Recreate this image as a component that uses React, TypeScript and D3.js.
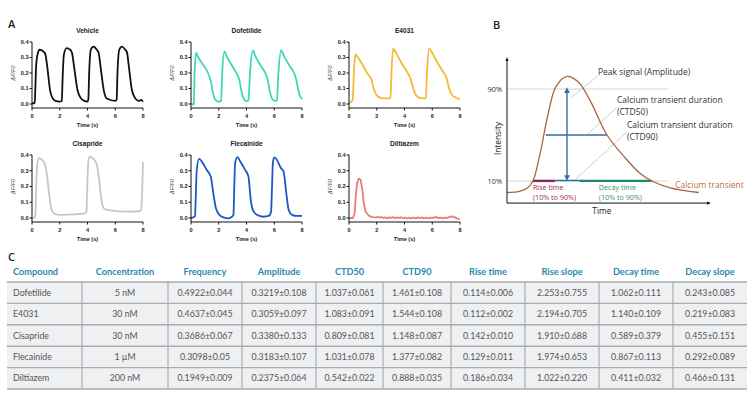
import React from 'react';
import * as d3 from 'd3';

// ---- panel A : calcium traces (time s, dF/F0) ----
const timeTicks = [0, 2, 4, 6, 8];
const dffTicks = [0, 0.1, 0.2, 0.3, 0.4];

const vehicle: [number, number][] = [
  [0, 0.005], [0.2, 0.005], [0.24, 0.1], [0.3, 0.25], [0.4, 0.32], [0.55, 0.35], [0.8, 0.34], [0.95, 0.325],
  [1.1, 0.24], [1.3, 0.09], [1.5, 0.035], [1.75, 0.018], [2.0, 0.015], [2.15, 0.02], [2.2, 0.15], [2.3, 0.32],
  [2.5, 0.36], [2.75, 0.35], [2.88, 0.33], [3.05, 0.23], [3.28, 0.09], [3.6, 0.03], [4.0, 0.015], [4.06, 0.03],
  [4.12, 0.2], [4.24, 0.35], [4.43, 0.37], [4.67, 0.35], [4.8, 0.33], [4.97, 0.22], [5.17, 0.09], [5.4, 0.035],
  [6.0, 0.02], [6.1, 0.03], [6.16, 0.2], [6.29, 0.35], [6.48, 0.37], [6.72, 0.35], [6.84, 0.335], [7.01, 0.22],
  [7.2, 0.09], [7.45, 0.035], [7.7, 0.02], [7.86, 0.026], [8.0, 0.015],
];
const dofetilide: [number, number][] = [
  [0, 0.003], [0.1, 0.0], [0.17, -0.005], [0.2, 0.0], [0.26, 0.2], [0.36, 0.332], [0.53, 0.3], [0.9, 0.25],
  [1.25, 0.195], [1.42, 0.15], [1.57, 0.08], [1.73, 0.03], [1.98, 0.015], [2.17, 0.02], [2.25, 0.2], [2.41, 0.34],
  [2.58, 0.305], [2.94, 0.25], [3.3, 0.195], [3.5, 0.15], [3.62, 0.09], [3.78, 0.036], [3.98, 0.018], [4.14, 0.023],
  [4.25, 0.2], [4.46, 0.345], [4.63, 0.31], [5.0, 0.25], [5.35, 0.2], [5.52, 0.157], [5.66, 0.09], [5.83, 0.036],
  [6.07, 0.02], [6.19, 0.023], [6.3, 0.2], [6.5, 0.347], [6.67, 0.315], [7.04, 0.255], [7.4, 0.205], [7.57, 0.163],
  [7.71, 0.1], [7.88, 0.047], [8.0, 0.032],
];
const e4031: [number, number][] = [
  [0, 0.004], [0.17, 0.015], [0.27, 0.03], [0.35, 0.2], [0.48, 0.32], [0.65, 0.3], [1.0, 0.25], [1.37, 0.19],
  [1.61, 0.16], [1.78, 0.1], [1.98, 0.058], [2.27, 0.04], [2.7, 0.036], [2.99, 0.04], [3.06, 0.2], [3.18, 0.357],
  [3.42, 0.325], [3.78, 0.265], [4.14, 0.214], [4.43, 0.165], [4.63, 0.1], [4.82, 0.058], [5.1, 0.04], [5.54, 0.036],
  [5.62, 0.2], [5.78, 0.357], [6.02, 0.325], [6.39, 0.265], [6.75, 0.212], [7.04, 0.165], [7.2, 0.105], [7.4, 0.062],
  [7.64, 0.043], [8.0, 0.032],
];
const cisapride: [number, number][] = [
  [0, 0.0], [0.17, 0.002], [0.24, 0.02], [0.3, 0.2], [0.39, 0.35], [0.53, 0.38], [0.7, 0.37], [0.89, 0.35],
  [1.06, 0.285], [1.23, 0.157], [1.42, 0.05], [1.66, 0.025], [2.02, 0.02], [3.0, 0.023], [3.83, 0.03], [3.93, 0.045],
  [4.0, 0.25], [4.07, 0.37], [4.19, 0.39], [4.43, 0.375], [4.67, 0.34], [4.87, 0.22], [5.04, 0.094], [5.28, 0.055],
  [5.76, 0.047], [6.84, 0.04], [7.76, 0.043], [7.86, 0.055], [7.95, 0.2], [8.0, 0.355],
];
const flecainide: [number, number][] = [
  [0, -0.002], [0.17, 0.004], [0.29, 0.013], [0.35, 0.15], [0.41, 0.3], [0.58, 0.375], [0.77, 0.36], [1.13, 0.306],
  [1.42, 0.264], [1.61, 0.157], [1.8, 0.06], [2.05, 0.02], [2.34, 0.004], [2.7, -0.002], [2.94, 0.008], [3.06, 0.02],
  [3.12, 0.2], [3.18, 0.35], [3.35, 0.387], [3.54, 0.36], [3.9, 0.306], [4.14, 0.264], [4.3, 0.12], [4.46, 0.05],
  [4.75, 0.02], [5.2, 0.008], [5.6, 0.013], [5.77, 0.04], [5.84, 0.2], [5.9, 0.35], [6.0, 0.385], [6.19, 0.37],
  [6.48, 0.317], [6.67, 0.296], [6.87, 0.157], [7.04, 0.05], [7.28, 0.02], [7.64, 0.013], [8.0, 0.013],
];
const diltiazem: [number, number][] = [
  [0, 0.0], [0.29, 0.0], [0.41, 0.03], [0.48, 0.136], [0.58, 0.22], [0.7, 0.25], [0.84, 0.243], [0.96, 0.18],
  [1.06, 0.094], [1.2, 0.04], [1.45, 0.013], [1.7, 0.006], [1.98, 0.004], [2.1, 0.008], [2.2, 0.002], [2.35, 0.006],
  [2.5, 0.0], [2.6, 0.005], [2.75, -0.002], [2.9, 0.004], [3.0, 0.0], [3.15, 0.006], [3.3, -0.001], [3.45, 0.004],
  [3.6, 0.0], [3.75, 0.005], [3.9, -0.002], [4.05, 0.003], [4.2, -0.003], [4.35, 0.002], [4.5, -0.002], [4.65, 0.003],
  [4.8, -0.002], [4.95, 0.004], [5.1, 0.0], [5.25, 0.004], [5.4, -0.002], [5.55, 0.002], [5.7, -0.003], [5.85, 0.003],
  [6.0, -0.001], [6.15, 0.004], [6.3, 0.006], [6.45, -0.001], [6.6, 0.003], [6.75, -0.002], [6.9, 0.002], [7.05, 0.0],
  [7.2, 0.005], [7.35, 0.01], [7.5, 0.009], [7.65, 0.004], [7.8, -0.004], [8.0, -0.006],
];

const traceNames = ['Vehicle', 'Dofetilide', 'E4031', 'Cisapride', 'Flecainide', 'Diltiazem'];
const traceColors = ['#111111', '#3ed8b8', '#f2b934', '#c6c6c6', '#1f57c9', '#e87b7d'];
const traceData = [vehicle, dofetilide, e4031, cisapride, flecainide, diltiazem];

// ---- panel B : schematic transient (time %, intensity %) ----
const transient: [number, number][] = [
  [0, 0], [6, 1], [10, 4], [12.7, 10], [16, 32], [20, 67], [24, 92], [29.4, 101], [35, 96],
  [41, 79], [49, 50], [58, 30], [65, 17], [71, 10], [80, 4], [94, 0],
];
const pctTicks = [10, 90];

// ---- panel C : table ----
const tableHeaders = ['Compound', 'Concentration', 'Frequency', 'Amplitude', 'CTD50', 'CTD90', 'Rise time', 'Rise slope', 'Decay time', 'Decay slope'];
const compounds = ['Dofetilide', 'E4031', 'Cisapride', 'Flecainide', 'Diltiazem'];
const concentrations = ['5 nM', '30 nM', '30 nM', '1 µM', '200 nM'];
const frequency = ['0.4922±0.044', '0.4637±0.045', '0.3686±0.067', '0.3098±0.05', '0.1949±0.009'];
const amplitude = ['0.3219±0.108', '0.3059±0.097', '0.3380±0.133', '0.3183±0.107', '0.2375±0.064'];
const ctd50 = ['1.037±0.061', '1.083±0.091', '0.809±0.081', '1.031±0.078', '0.542±0.022'];
const ctd90 = ['1.461±0.108', '1.544±0.108', '1.148±0.087', '1.377±0.082', '0.888±0.035'];
const riseTime = ['0.114±0.006', '0.112±0.002', '0.142±0.010', '0.129±0.011', '0.186±0.034'];
const riseSlope = ['2.253±0.755', '2.194±0.705', '1.910±0.688', '1.974±0.653', '1.022±0.220'];
const decayTime = ['1.062±0.111', '1.140±0.109', '0.589±0.379', '0.867±0.113', '0.411±0.032'];
const decaySlope = ['0.243±0.085', '0.219±0.083', '0.455±0.151', '0.292±0.089', '0.466±0.131'];

const AX_FONT = '"Liberation Sans", Arial, sans-serif';
const B_FONT = '"Open Sans", sans-serif';
const T_FONT = 'Lato, sans-serif';

const Trace = ({ left, top, bottom, name, data, color, noisy }: any) => {
  const x = d3.scaleLinear().domain([0, 8]).range([left, left + 111]);
  const y = d3.scaleLinear().domain([0, 0.4]).range([bottom, top]);
  const axisY = y(0) + 4;
  const line = d3.line<[number, number]>().x(d => x(d[0])).y(d => y(d[1]))
    .curve(noisy ? d3.curveLinear : d3.curveMonotoneX);
  return (
    <g>
      <text x={(x(0) + x(8)) / 2} y={top - 9} textAnchor="middle" fontFamily={AX_FONT} fontWeight="bold" fontSize={6.6} fill="#222">{name}</text>
      <path d={line(data) || ''} fill="none" stroke={color} strokeWidth={1.8} strokeLinejoin="round" />
      <line x1={x(0)} x2={x(0)} y1={y(0.4)} y2={axisY} stroke="#111" strokeWidth={1} />
      <line x1={x(0)} x2={x(8)} y1={axisY} y2={axisY} stroke="#111" strokeWidth={1} />
      {dffTicks.map(t => (
        <g key={t}>
          <line x1={x(0) - 2.5} x2={x(0)} y1={y(t)} y2={y(t)} stroke="#111" strokeWidth={1} />
          <text x={x(0) - 3.5} y={y(t)} dy="0.35em" textAnchor="end" fontFamily={AX_FONT} fontWeight="bold" fontSize={5.6} fill="#222">{t.toFixed(1)}</text>
        </g>
      ))}
      {timeTicks.map(t => (
        <g key={t}>
          <line x1={x(t)} x2={x(t)} y1={axisY} y2={axisY + 2.5} stroke="#111" strokeWidth={1} />
          <text x={x(t)} y={axisY + 10} textAnchor="middle" fontFamily={AX_FONT} fontWeight="bold" fontSize={5.6} fill="#222">{t}</text>
        </g>
      ))}
      <text x={(x(0) + x(8)) / 2} y={axisY + 18.5} textAnchor="middle" fontFamily={AX_FONT} fontWeight="bold" fontSize={5.6} fill="#222">Time (s)</text>
      <text transform={`translate(${left - 17},${(top + bottom) / 2}) rotate(-90)`} textAnchor="middle" fontFamily={AX_FONT} fontStyle="italic" fontSize={5.6} fill="#333">ΔF/F0</text>
    </g>
  );
};

const PanelB = () => {
  const bx = d3.scaleLinear().domain([0, 100]).range([507, 711]);
  const by = d3.scaleLinear().domain([10, 90]).range([181, 89]);
  const curve = d3.line<[number, number]>().x(d => bx(d[0])).y(d => by(d[1])).curve(d3.curveCatmullRom.alpha(0.5));
  const blue = '#2e6ea6';
  const lead = '#c9c9c9';
  return (
    <g>
      <defs>
        <marker id="ah" viewBox="0 0 10 10" refX="5" refY="5" markerWidth="4" markerHeight="4" orient="auto-start-reverse">
          <path d="M0,0 L10,5 L0,10 z" fill={blue} />
        </marker>
        <marker id="axh" viewBox="0 0 10 10" refX="5" refY="5" markerWidth="4" markerHeight="4" orient="auto-start-reverse">
          <path d="M0,1 L10,5 L0,9 z" fill="#111" />
        </marker>
      </defs>
      <text x={493} y={29} fontFamily={B_FONT} fontWeight={600} fontSize={11} fill="#222">B</text>
      {pctTicks.map(p => (
        <g key={p}>
          <line x1={bx(0)} x2={bx(79)} y1={by(p)} y2={by(p)} stroke="#d4d4d4" strokeWidth={1} />
          <text x={bx(0) - 5} y={by(p)} dy="0.35em" textAnchor="end" fontFamily={B_FONT} fontSize={7.4} fill="#333">{p}%</text>
        </g>
      ))}
      {/* leader lines */}
      <line x1={bx(44.6)} y1={by(101.5)} x2={bx(30.9)} y2={by(82)} stroke={lead} strokeWidth={0.9} />
      <line x1={bx(53.9)} y1={by(74)} x2={bx(39.7)} y2={by(51)} stroke={lead} strokeWidth={0.9} />
      <line x1={bx(58.8)} y1={by(52.6)} x2={bx(33.3)} y2={by(11)} stroke={lead} strokeWidth={0.9} />
      {/* CTD90 line at 10% and CTD50 at 50% */}
      <line x1={bx(12.7)} x2={bx(71)} y1={by(10.5)} y2={by(10.5)} stroke={blue} strokeWidth={1.4} />
      <line x1={bx(19)} x2={bx(49)} y1={by(50)} y2={by(50)} stroke={blue} strokeWidth={1.4} />
      <line x1={bx(29.4)} x2={bx(29.4)} y1={by(89)} y2={by(12.5)} stroke={blue} strokeWidth={1.4} markerStart="url(#ah)" markerEnd="url(#ah)" />
      <line x1={bx(12.7)} x2={bx(23.5)} y1={by(10)} y2={by(10)} stroke="#8e2447" strokeWidth={2.2} />
      <line x1={bx(35.8)} x2={bx(71)} y1={by(10)} y2={by(10)} stroke="#1f8a6a" strokeWidth={2.2} />
      <path d={curve(transient) || ''} fill="none" stroke="#a8643c" strokeWidth={1.3} />
      {/* axes */}
      <line x1={bx(0)} x2={bx(0)} y1={by(-9.2)} y2={by(116)} stroke="#111" strokeWidth={1} markerEnd="url(#axh)" />
      <line x1={bx(0)} x2={bx(99)} y1={by(-9.2)} y2={by(-9.2)} stroke="#111" strokeWidth={1} markerEnd="url(#axh)" />
      <text transform={`translate(${bx(0) - 6},${by(47)}) rotate(-90)`} textAnchor="middle" fontFamily={B_FONT} fontSize={8.3} fill="#222">Intensity</text>
      <text x={bx(46.5)} y={by(-9.2) + 11} textAnchor="middle" fontFamily={B_FONT} fontSize={8.3} fill="#222">Time</text>
      <g fontFamily={B_FONT} fontSize={8.5} fill="#333">
        <text x={bx(44.6)} y={by(102)}>Peak signal (Amplitude)</text>
        <text x={bx(53.9)} y={by(78)}>Calcium transient duration</text>
        <text x={bx(53.9)} y={by(67)}>(CTD50)</text>
        <text x={bx(58.8)} y={by(56)}>Calcium transient duration</text>
        <text x={bx(58.8)} y={by(45.5)}>(CTD90)</text>
      </g>
      <text x={bx(82.5)} y={by(3.5)} fontFamily={B_FONT} fontSize={8.4} fill="#b9713e">Calcium transient</text>
      <g fontFamily={B_FONT} fontSize={7.2}>
        <text x={bx(12.7)} y={by(1.8)} fill="#9c2f4f">Rise time</text>
        <text x={bx(12.7)} y={by(-6.8)} fill="#9c2f4f">(10% to 90%)</text>
        <text x={bx(45)} y={by(1.8)} fill="#3a8f6e">Decay time</text>
        <text x={bx(45)} y={by(-6.8)} fill="#3a8f6e">(10% to 90%)</text>
      </g>
    </g>
  );
};

const colWidths = [75, 86, 74, 74, 67, 68, 74, 74, 74, 74];

const PanelC = () => {
  const columns = [compounds, concentrations, frequency, amplitude, ctd50, ctd90, riseTime, riseSlope, decayTime, decaySlope];
  const edges = [7, ...d3.cumsum(colWidths).map(v => v + 7)];
  const ry = d3.scaleBand<number>().domain(d3.range(compounds.length)).range([282, 389]);
  const tableTop = ry(0) || 0;
  return (
    <g>
      <text x={8} y={261} fontFamily={B_FONT} fontWeight={600} fontSize={11} fill="#222">C</text>
      {tableHeaders.map((h, i) => (
        <text key={h} x={i === 0 ? edges[0] + 6 : (edges[i] + edges[i + 1]) / 2} y={272} dy="0.35em"
          textAnchor={i === 0 ? 'start' : 'middle'} fontFamily={T_FONT} fontWeight={700} fontSize={9.2} fill="#2689b0">{h}</text>
      ))}
      <rect x={edges[0]} y={tableTop} width={edges[edges.length - 1] - edges[0]} height={389 - tableTop} fill="#eff0f2" />
      {compounds.map((_, r) => (
        <line key={r} x1={edges[0]} x2={edges[edges.length - 1]} y1={ry(r)} y2={ry(r)} stroke="#a9adb2" strokeWidth={1.4} />
      ))}
      <line x1={edges[0]} x2={edges[edges.length - 1]} y1={389} y2={389} stroke="#a9adb2" strokeWidth={1.4} />
      {edges.slice(1, -1).map((e, i) => (
        <line key={i} x1={e} x2={e} y1={tableTop} y2={389} stroke="#a9adb2" strokeWidth={1.2} />
      ))}
      {columns.map((col, c) => col.map((v, r) => (
        <text key={`${c}-${r}`} x={c === 0 ? edges[0] + 6 : (edges[c] + edges[c + 1]) / 2}
          y={(ry(r) || 0) + ry.bandwidth() / 2} dy="0.35em" textAnchor={c === 0 ? 'start' : 'middle'}
          fontFamily={T_FONT} fontSize={8.8} fill="#555">{v}</text>
      )))}
    </g>
  );
};

export default function App() {
  const lefts = [32, 191, 349];
  const rows = [[42, 104], [155, 218]];
  return (
    <svg width={750} height={397} style={{ position: 'absolute', left: 0, top: 0, background: '#fff' }}>
      <text x={8} y={28} fontFamily={B_FONT} fontWeight={600} fontSize={11} fill="#222">A</text>
      {traceNames.map((n, i) => (
        <Trace key={n} name={n} data={traceData[i]} color={traceColors[i]} noisy={n === 'Diltiazem'}
          left={lefts[i % 3]} top={rows[Math.floor(i / 3)][0]} bottom={rows[Math.floor(i / 3)][1]} />
      ))}
      <PanelB />
      <PanelC />
    </svg>
  );
}
